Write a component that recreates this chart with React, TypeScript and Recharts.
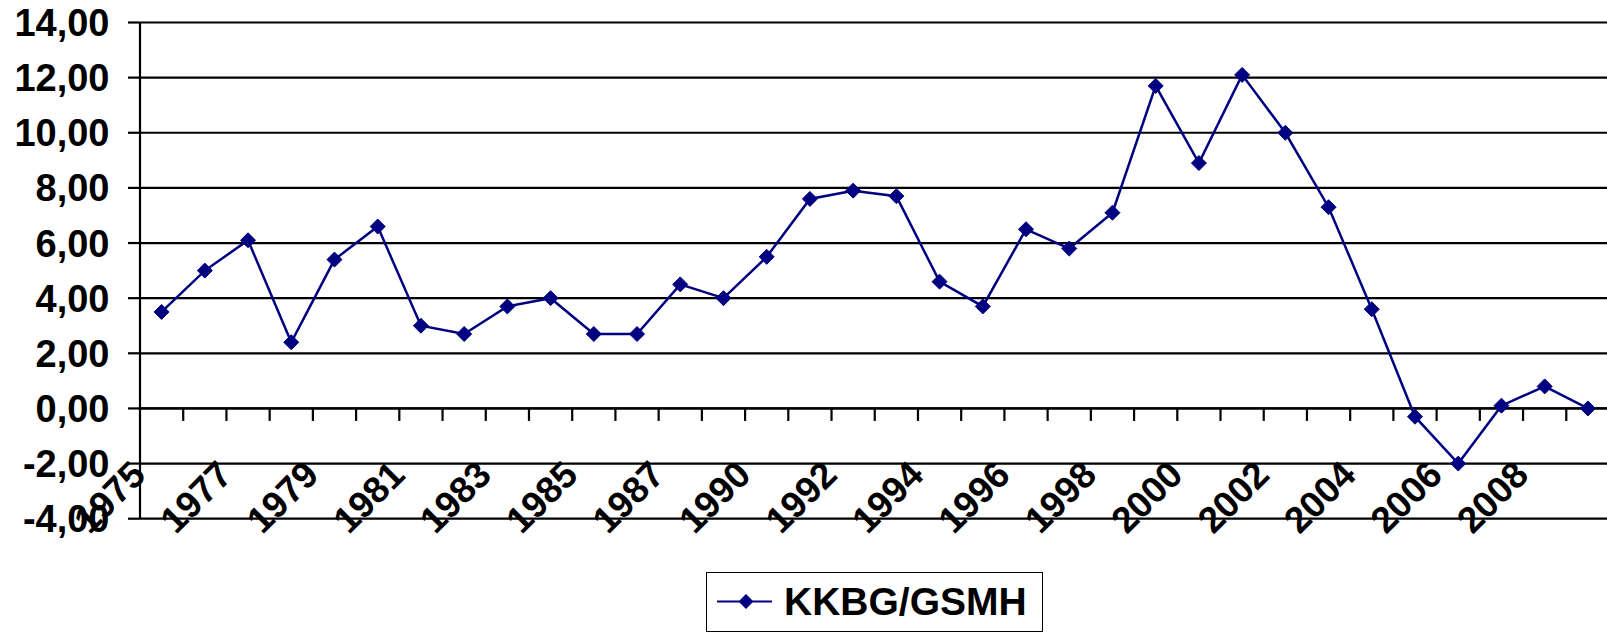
import React from 'react';
import { LineChart, Line, XAxis, YAxis, CartesianGrid, ReferenceLine, Legend } from 'recharts';

if (typeof document !== 'undefined') {
  document.body.style.margin = '0';
}

const FONT = '"Liberation Sans", Arial, sans-serif';
const NAVY = '#000080';

const years = [
  '1975', '1976', '1977', '1978', '1979', '1980', '1981', '1982', '1983', '1984',
  '1985', '1986', '1987', '1988', '1990', '1991', '1992', '1993', '1994', '1995',
  '1996', '1997', '1998', '1999', '2000', '2001', '2002', '2003', '2004', '2005',
  '2006', '2007', '2008', '2009',
];

const kkbgGsmh = [
  3.5, 5.0, 6.1, 2.4, 5.4, 6.6, 3.0, 2.7, 3.7, 4.0,
  2.7, 2.7, 4.5, 4.0, 5.5, 7.6, 7.9, 7.7, 4.6, 3.7,
  6.5, 5.8, 7.1, 11.7, 8.9, 12.1, 10.0, 7.3, 3.6, -0.3,
  -2.0, 0.1, 0.8, 0.0,
];

const yTicks = [-4, -2, 0, 2, 4, 6, 8, 10, 12, 14];
const seriesName = 'KKBG/GSMH';

const data = years.map((year, i) => ({ year, value: kkbgGsmh[i] }));

const fmt = (v: number) => v.toFixed(2).replace('.', ',');

const XTick = (props: any) => {
  const { x, y, payload } = props;
  const ax = x - 14;
  const ay = y - 41.7;
  return (
    <text
      x={ax}
      y={ay}
      transform={`rotate(-45 ${ax} ${ay})`}
      textAnchor="end"
      fontSize={37}
      fontWeight={700}
      fontFamily={FONT}
      fill="#000"
    >
      {payload.value}
    </text>
  );
};

const ZeroAxis = (props: any) => {
  const { x1, y1, x2, y2 } = props;
  const n = years.length;
  const bw = (x2 - x1) / n;
  const marks = [];
  for (let k = 1; k < n; k++) {
    const xx = x1 + k * bw;
    marks.push(<line key={k} x1={xx} y1={y1} x2={xx} y2={y1 + 12.5} stroke="#000" strokeWidth={2.2} />);
  }
  return (
    <g>
      <line x1={x1} y1={y1} x2={x2} y2={y2} stroke="#000" strokeWidth={2.2} />
      {marks}
    </g>
  );
};

const Diamond = (props: any) => {
  const { cx, cy, index } = props;
  if (cx == null || cy == null) return <g key={`d${index}`} />;
  const r = 7.5;
  return (
    <path
      key={`d${index}`}
      d={`M${cx},${cy - r}L${cx + r},${cy}L${cx},${cy + r}L${cx - r},${cy}Z`}
      fill={NAVY}
      stroke={NAVY}
      strokeWidth={1}
    />
  );
};

const LegendBox = () => (
  <div
    style={{
      boxSizing: 'border-box',
      width: 337,
      height: 60,
      border: '1.5px solid #000',
      background: '#fff',
      position: 'relative',
      fontFamily: FONT,
    }}
  >
    <svg width={72} height={57} style={{ position: 'absolute', left: 0, top: 0 }}>
      <line x1={10} y1={28.5} x2={65} y2={28.5} stroke={NAVY} strokeWidth={2.2} />
      <path d="M39,21L46.5,28.5L39,36L31.5,28.5Z" fill={NAVY} />
    </svg>
    <span
      style={{
        position: 'absolute',
        left: 77,
        top: 0,
        lineHeight: '57px',
        fontSize: 39,
        fontWeight: 700,
        color: '#000',
        whiteSpace: 'nowrap',
      }}
    >
      {seriesName}
    </span>
  </div>
);

export default function App() {
  return (
    <div
      style={{
        width: 1607,
        height: 635,
        overflow: 'hidden',
        boxSizing: 'border-box',
        padding: 8,
        background: '#fff',
      }}
    >
      <style>{'.recharts-surface { overflow: visible; }'}</style>
      <LineChart
        width={1610}
        height={627}
        data={data}
        margin={{ top: 14.5, right: 8.5, left: 0, bottom: 3 }}
      >
        <CartesianGrid horizontal vertical={false} stroke="#000" strokeWidth={2.2} />
        <XAxis
          dataKey="year"
          type="category"
          scale="point"
          padding={{ left: 21.6, right: 21.6 }}
          interval={1}
          tickLine={false}
          axisLine={false}
          tickSize={0}
          tickMargin={0}
          height={53.3}
          tick={<XTick />}
        />
        <YAxis
          width={132}
          type="number"
          domain={[-4, 14]}
          ticks={yTicks}
          interval={0}
          tickSize={12}
          tickMargin={18.5}
          axisLine={{ stroke: '#000', strokeWidth: 2.2 }}
          tickLine={{ stroke: '#000', strokeWidth: 2.2 }}
          tick={{ fill: '#000', fontSize: 38, fontWeight: 700, fontFamily: FONT }}
          tickFormatter={fmt}
        />
        <ReferenceLine y={0} stroke="#000" strokeWidth={2.2} shape={ZeroAxis} />
        <Line
          type="linear"
          dataKey="value"
          name={seriesName}
          stroke={NAVY}
          strokeWidth={2.5}
          dot={Diamond}
          activeDot={false}
          isAnimationActive={false}
        />
        <Legend
          verticalAlign="bottom"
          content={LegendBox}
          wrapperStyle={{ left: 698, width: 337, bottom: 3 }}
        />
      </LineChart>
    </div>
  );
}
